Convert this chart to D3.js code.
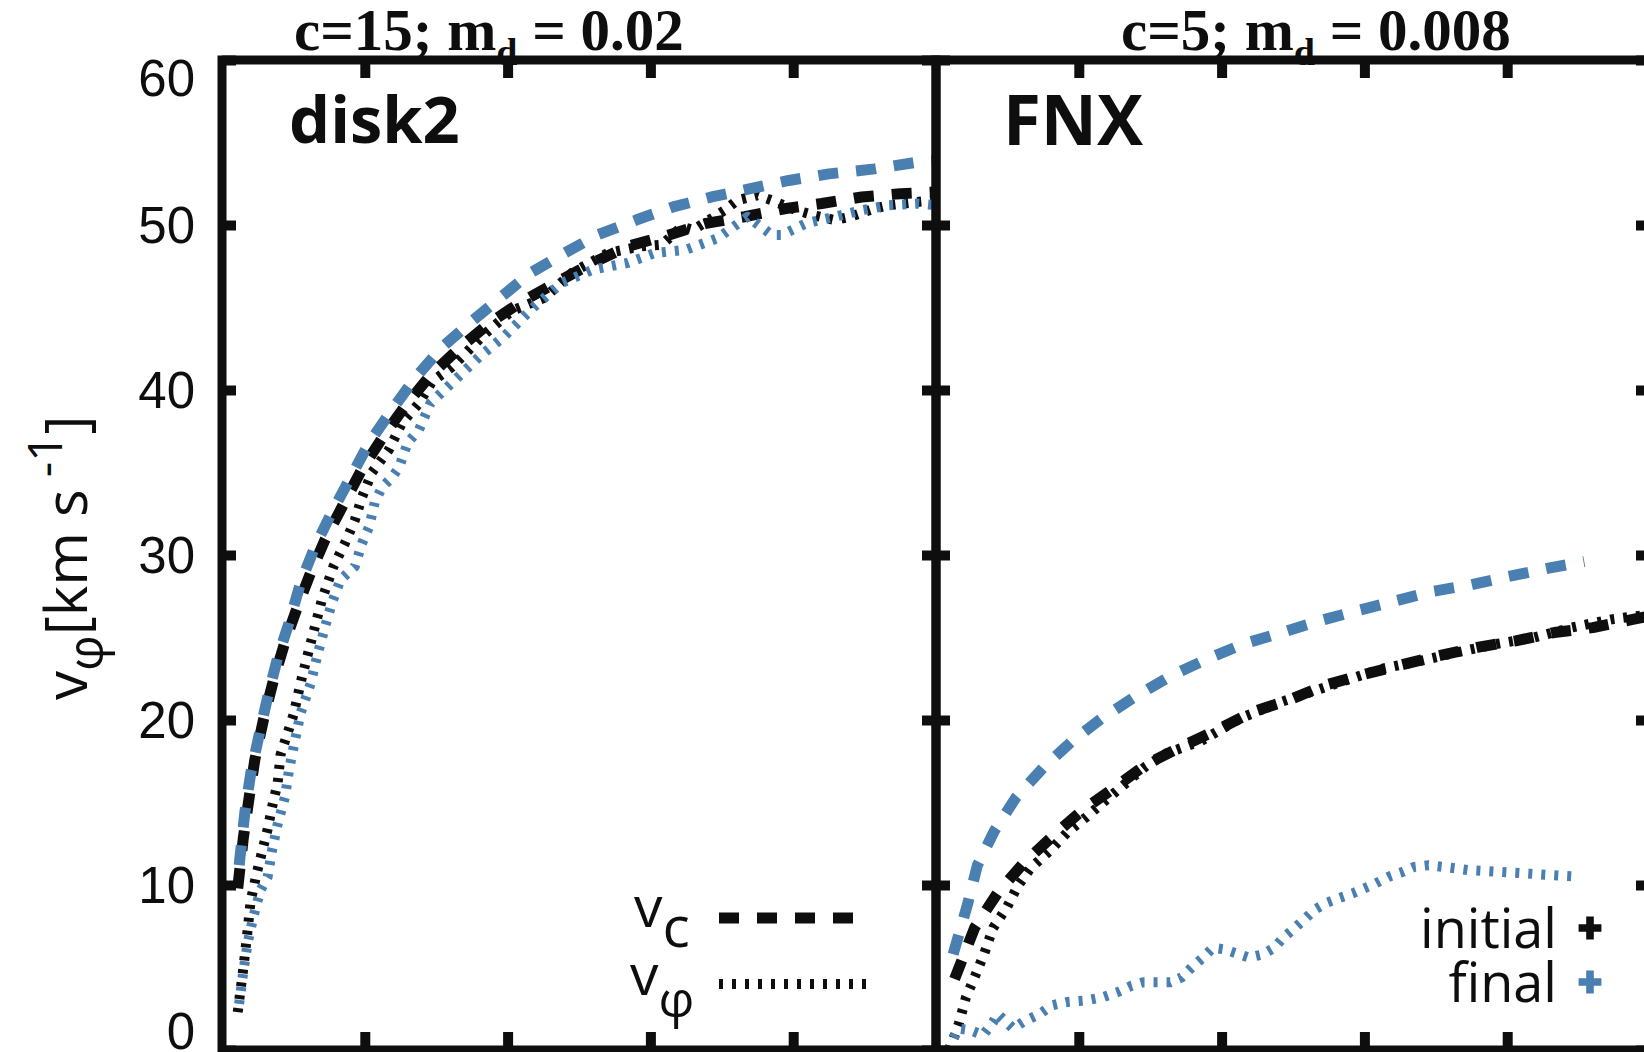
<!DOCTYPE html>
<html><head><meta charset="utf-8">
<script src="https://cdn.jsdelivr.net/npm/d3@7"></script>
<style>body{margin:0;background:#fff;} svg{display:block;}</style>
</head><body>
<svg id="chart" width="1644" height="1052"></svg>
<script>
// ---------------- data ----------------
const yTicks = [0, 10, 20, 30, 40, 50, 60];
const xTicks = [1, 2, 3, 4];
const xDomain = [0, 5];
const yDomain = [0, 60];
const panelNames = ["disk2", "FNX"];
const titleHead = ["c=15; m", "c=5; m"];
const titleSub = ["d", "d"];
const titleTail = [" = 0.02", " = 0.008"];
const legendStates = ["initial", "final"];

// disk2 panel: [R, v]
const disk2VcInitial = [[0.11,9.8],[0.15,12.9],[0.19,15.3],[0.23,17.6],[0.29,20.0],[0.36,22.4],[0.44,24.7],[0.53,26.9],[0.62,28.9],[0.72,30.9],[0.84,32.9],[0.98,35.2],[1.13,37.2],[1.28,39.0],[1.46,40.9],[1.67,42.6],[1.88,44.1],[2.09,45.3],[2.38,46.7],[2.62,47.8],[2.84,48.7],[3.13,49.4],[3.39,50.1],[3.66,50.5],[3.95,51.0],[4.20,51.3],[4.48,51.7],[4.75,51.9],[5.0,52.0]];
const disk2VcFinal = [[0.12,11.2],[0.16,14.4],[0.20,16.7],[0.26,19.1],[0.32,21.4],[0.39,23.8],[0.47,25.9],[0.55,28.3],[0.65,30.5],[0.77,32.6],[0.90,34.7],[1.03,36.8],[1.19,38.8],[1.35,40.7],[1.53,42.5],[1.74,44.1],[1.95,45.6],[2.16,47.1],[2.40,48.3],[2.63,49.4],[2.90,50.3],[3.16,51.1],[3.43,51.7],[3.70,52.2],[3.97,52.7],[4.25,53.1],[4.57,53.4],[4.86,53.8],[5.0,53.9]];
const disk2VphiInitial = [[0.11,2.3],[0.15,5.0],[0.18,7.3],[0.20,9.0],[0.24,10.6],[0.28,12.0],[0.32,13.4],[0.35,14.7],[0.39,16.2],[0.41,17.9],[0.50,20.3],[0.56,22.6],[0.64,25.3],[0.70,27.3],[0.78,29.3],[0.86,30.7],[0.93,32.1],[0.98,33.5],[1.05,35.0],[1.17,36.4],[1.26,38.0],[1.38,39.2],[1.47,40.5],[1.61,41.4],[1.68,42.0],[1.84,43.4],[2.03,44.8],[2.26,45.6],[2.45,47.1],[2.70,48.3],[2.93,48.7],[3.08,48.8],[3.22,49.9],[3.30,49.7],[3.52,50.9],[3.61,51.5],[3.75,51.8],[3.85,51.5],[4.02,50.9],[4.14,50.6],[4.29,50.3],[4.40,50.5],[4.57,51.0],[4.67,51.2],[4.87,51.4],[5.0,51.5]];
const disk2VphiFinal = [[0.12,2.8],[0.15,4.8],[0.18,6.5],[0.22,8.1],[0.27,9.7],[0.32,10.5],[0.35,12.1],[0.39,13.7],[0.44,15.3],[0.47,17.0],[0.50,18.3],[0.55,20.4],[0.62,22.2],[0.67,24.0],[0.72,25.6],[0.77,27.1],[0.83,28.5],[0.93,29.3],[0.98,30.7],[1.03,31.7],[1.07,33.2],[1.12,34.1],[1.19,34.7],[1.24,35.3],[1.30,36.8],[1.38,37.6],[1.46,39.2],[1.63,40.6],[1.80,42.0],[1.97,43.2],[2.18,45.0],[2.38,46.5],[2.60,47.3],[2.84,47.7],[3.03,48.3],[3.25,48.5],[3.47,49.2],[3.60,50.0],[3.68,50.5],[3.85,49.4],[3.92,49.4],[4.09,50.1],[4.29,50.5],[4.48,50.9],[4.67,51.2],[4.87,51.3],[5.0,51.2]];

// FNX panel: [R, v]
const fnxVcInitial = [[0.13,4.3],[0.27,7.4],[0.43,9.5],[0.61,11.3],[0.81,12.9],[1.02,14.5],[1.25,15.9],[1.47,17.3],[1.72,18.4],[1.97,19.4],[2.22,20.5],[2.47,21.2],[2.72,22.1],[2.97,22.7],[3.24,23.3],[3.52,23.9],[3.79,24.4],[4.06,24.8],[4.33,25.3],[4.60,25.6],[4.88,26.1],[5.0,26.3]];
const fnxVcFinal = [[0.12,5.8],[0.22,8.8],[0.29,11.2],[0.41,13.3],[0.56,15.3],[0.75,17.1],[0.95,18.7],[1.16,20.1],[1.41,21.5],[1.65,22.7],[1.90,23.7],[2.15,24.6],[2.42,25.3],[2.68,26.0],[2.94,26.6],[3.21,27.2],[3.48,27.8],[3.75,28.2],[4.01,28.7],[4.29,29.2],[4.54,29.6]];
const fnxVphiInitial = [[0.09,0],[0.11,0.4],[0.16,1.6],[0.21,3.2],[0.27,4.4],[0.34,5.9],[0.40,7.4],[0.50,8.7],[0.57,9.9],[0.66,11.0],[0.80,12.1],[0.92,13.2],[1.05,14.1],[1.17,15.0],[1.32,16.1],[1.47,17.2],[1.62,18.0],[1.85,18.7],[2.13,20.1],[2.42,21.1],[2.80,22.2],[3.12,23.1],[3.40,23.6],[3.65,24.1],[3.92,24.6],[4.19,25.0],[4.45,25.6],[4.73,26.1],[5.0,26.4]];
const fnxVphiFinal = [[0.09,0],[0.11,0.5],[0.16,1.3],[0.24,1.2],[0.33,0.9],[0.40,1.7],[0.43,2.2],[0.54,1.3],[0.61,1.7],[0.73,2.2],[0.81,2.7],[0.91,2.9],[1.05,3.0],[1.17,3.2],[1.27,3.5],[1.37,3.9],[1.45,4.1],[1.64,4.1],[1.72,4.4],[1.79,5.0],[1.87,5.6],[1.94,6.2],[2.02,6.1],[2.19,5.6],[2.29,5.8],[2.37,6.2],[2.43,6.8],[2.50,7.3],[2.59,8.0],[2.65,8.5],[2.73,8.9],[2.82,9.2],[2.92,9.5],[3.00,9.8],[3.08,10.1],[3.17,10.5],[3.27,10.8],[3.35,11.1],[3.45,11.2],[3.55,11.1],[3.73,10.9],[3.93,10.8],[4.13,10.7],[4.31,10.6],[4.51,10.5]];

// ---------------- styling / layout ----------------
const BLACK = "#0e0e0e", BLUE = "#4a7fb1";
const DASH = "20,18", DOT = "4,9";
const sansFont = "'Open Sans', 'Noto Sans', sans-serif";
const panels = [
  { x0: 222, x1: 936, series: [
      { data: disk2VcInitial, color: BLACK, dash: DASH },
      { data: disk2VphiInitial, color: BLACK, dash: DOT },
      { data: disk2VcFinal, color: BLUE, dash: DASH },
      { data: disk2VphiFinal, color: BLUE, dash: DOT } ] },
  { x0: 936, x1: 1650, series: [
      { data: fnxVcInitial, color: BLACK, dash: DASH },
      { data: fnxVphiInitial, color: BLACK, dash: DOT },
      { data: fnxVcFinal, color: BLUE, dash: DASH },
      { data: fnxVphiFinal, color: BLUE, dash: DOT } ] }
];
const plotTop = 60, plotBottom = 1050;

const svg = d3.select("#chart");
svg.append("rect").attr("width", 1644).attr("height", 1052).attr("fill", "#fff");
const y = d3.scaleLinear().domain(yDomain).range([plotBottom, plotTop]);
const defs = svg.append("defs");

panels.forEach((p, i) => {
  const x = d3.scaleLinear().domain(xDomain).range([p.x0, p.x1]);
  defs.append("clipPath").attr("id", "clip" + i)
    .append("rect").attr("x", p.x0).attr("y", plotTop).attr("width", p.x1 - p.x0).attr("height", plotBottom - plotTop);
  const g = svg.append("g").attr("clip-path", `url(#clip${i})`);
  const line = d3.line().x(d => x(d[0])).y(d => y(d[1]));
  p.series.forEach(s => {
    g.append("path").attr("d", line(s.data))
      .attr("fill", "none").attr("stroke", s.color)
      .attr("stroke-width", s.dash === DASH ? 11 : 10).attr("stroke-dasharray", s.dash)
      .attr("stroke-linejoin", "round");
  });

  // axes
  const axG = svg.append("g");
  const left = axG.append("g").attr("transform", `translate(${p.x0},0)`)
    .call(d3.axisLeft(y).tickValues(yTicks).tickSize(-14).tickPadding(27)
      .tickFormat(i === 0 ? d3.format("d") : () => ""));
  axG.append("g").attr("transform", `translate(${p.x1},0)`)
    .call(d3.axisRight(y).tickValues(yTicks).tickSize(-14).tickFormat(() => ""));
  axG.append("g").attr("transform", `translate(0,${plotBottom})`)
    .call(d3.axisBottom(x).tickValues(xTicks).tickSize(-18).tickFormat(() => ""));
  axG.append("g").attr("transform", `translate(0,${plotTop})`)
    .call(d3.axisTop(x).tickValues(xTicks).tickSize(-18).tickFormat(() => ""));
  axG.selectAll(".domain").remove();
  axG.selectAll(".tick line").attr("stroke", BLACK).attr("stroke-width", 10);
  left.selectAll(".tick text")
    .attr("font-family", "'Liberation Sans', Arial, sans-serif")
    .attr("font-size", 51).attr("fill", BLACK)
    .attr("dy", d => d === yDomain[1] ? "0.7em" : d === yDomain[0] ? "-0.02em" : "0.34em");

  // frame
  svg.append("rect").attr("x", p.x0).attr("y", plotTop)
    .attr("width", p.x1 - p.x0).attr("height", plotBottom - plotTop)
    .attr("fill", "none").attr("stroke", BLACK).attr("stroke-width", 9);

  // panel name
  svg.append("text").attr("x", i === 0 ? 289 : 1003).attr("y", i === 0 ? 143 : 145)
    .attr("font-family", sansFont).attr("font-weight", 700).attr("font-size", i === 0 ? 65 : 69)
    .attr("fill", BLACK).text(panelNames[i]);

  // title
  const t = svg.append("text").attr("x", i === 0 ? 294 : 1121).attr("y", 50)
    .attr("font-family", "'Liberation Serif', 'Times New Roman', serif")
    .attr("font-weight", 700).attr("font-size", 59).attr("fill", BLACK);
  t.append("tspan").text(titleHead[i]);
  t.append("tspan").attr("dy", 15).attr("font-size", 38).text(titleSub[i]);
  t.append("tspan").attr("dy", -15).attr("font-size", 59).attr("xml:space", "preserve").text(titleTail[i]);
});

// y axis title
const yt = svg.append("text").attr("transform", "translate(87,700) rotate(-90)")
  .attr("font-family", sansFont).attr("font-size", 58).attr("fill", BLACK);
yt.append("tspan").text("v");
yt.append("tspan").attr("dy", 16).attr("font-size", 50).text("φ");
yt.append("tspan").attr("dy", -16).attr("font-size", 58).text("[km s");
yt.append("tspan").attr("dy", -25).attr("font-size", 48).attr("dx", 12).text("-1");
yt.append("tspan").attr("dy", 25).attr("font-size", 58).text("]");

// left legend (line styles)
const lg = svg.append("g");
const vcT = lg.append("text").attr("x", 634).attr("y", 927)
  .attr("font-family", sansFont).attr("font-size", 57).attr("fill", BLACK);
vcT.append("tspan").text("v");
vcT.append("tspan").attr("dy", 20).text("c");
lg.append("line").attr("x1", 719).attr("x2", 857).attr("y1", 918).attr("y2", 918)
  .attr("stroke", BLACK).attr("stroke-width", 11).attr("stroke-dasharray", DASH);
const vpT = lg.append("text").attr("x", 630).attr("y", 995)
  .attr("font-family", sansFont).attr("font-size", 57).attr("fill", BLACK);
vpT.append("tspan").text("v");
vpT.append("tspan").attr("dy", 22).attr("font-size", 50).text("φ");
lg.append("line").attr("x1", 719).attr("x2", 875).attr("y1", 984).attr("y2", 984)
  .attr("stroke", BLACK).attr("stroke-width", 10).attr("stroke-dasharray", DOT);

// right legend (states)
const legendColors = [BLACK, BLUE];
const legendY = [948, 1002];
legendStates.forEach((s, i) => {
  svg.append("text").attr("x", 1557).attr("y", legendY[i]).attr("text-anchor", "end")
    .attr("font-family", sansFont).attr("font-size", 54).attr("fill", BLACK).text(s);
  svg.append("path").attr("d", d3.symbol(d3.symbolCross, 290)())
    .attr("transform", `translate(1590,${legendY[i] - 20})`).attr("fill", legendColors[i]);
});
</script>
</body></html>
